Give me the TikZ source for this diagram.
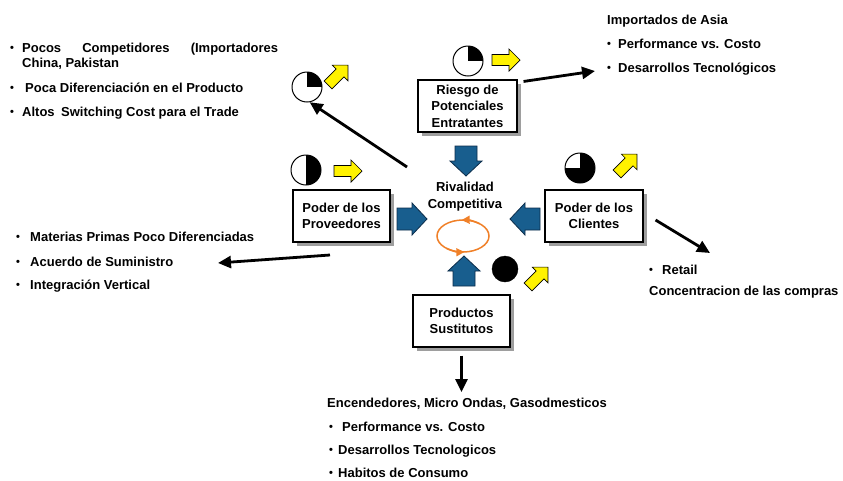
\documentclass[tikz,border=0pt]{standalone}
\usepackage{fontspec}
\setmainfont{Liberation Sans}
\usetikzlibrary{arrows.meta,shadows}
\definecolor{arrowblue}{RGB}{24,94,142}
\definecolor{arrowedge}{RGB}{12,45,75}
\definecolor{cycorange}{RGB}{240,128,40}
\newcommand{\bul}{\raisebox{0.6pt}{\fontsize{11}{11}\selectfont •}}
\tikzset{
  txt/.style={anchor=base west, inner sep=0pt, font=\bfseries\fontsize{13}{16}\selectfont},
  forcebox/.style={draw, line width=1.1pt, fill=white, align=center, inner sep=0pt,
    font=\bfseries\fontsize{13}{16.5}\selectfont,
    drop shadow={shadow xshift=4pt, shadow yshift=-4pt, fill=black!38, opacity=1}},
  pie/.style={circle, draw, line width=1pt, fill=white, minimum size=30pt, inner sep=0pt},
  quarterpie/.style={pie, path picture={\fill[black] (path picture bounding box.center) rectangle (path picture bounding box.north east);}},
  halfpie/.style={pie, path picture={\fill[black] (path picture bounding box.south) rectangle (path picture bounding box.north east);}},
  threepie/.style={pie, path picture={\fill[black] (path picture bounding box.south west) rectangle (path picture bounding box.east);
      \fill[black] (path picture bounding box.center) rectangle (path picture bounding box.north east);}},
  fullpie/.style={circle, draw, fill=black, minimum size=26pt, inner sep=0pt},
  bigarrow/.style={line width=2.8pt, -{Triangle[length=13pt,width=12pt]}},
  bluearrow/.pic={\draw[fill=arrowblue, draw=arrowedge, line width=0.8pt]
     (-15,-11) -- (0,-11) -- (0,-16) -- (15,0) -- (0,16) -- (0,11) -- (-15,11) -- cycle;},
  yelarrow/.pic={\draw[fill=yellow, draw=black, line width=0.7pt]
     (-14,-5.5) -- (3,-5.5) -- (3,-11) -- (14,0) -- (3,11) -- (3,5.5) -- (-14,5.5) -- cycle;},
}
\begin{document}
\begin{tikzpicture}[x=1pt,y=1pt]
\fill[white] (0,0) rectangle (843,-480);
\useasboundingbox (0,0) rectangle (843,-480);

% boxes
\node[forcebox, minimum width=99pt, minimum height=52pt] (riesgo) at (467.5,-106) {Riesgo de\\Potenciales\\Entratantes};
\node[forcebox, minimum width=97pt, minimum height=52pt] (prov) at (341.5,-216) {Poder de los\\Proveedores};
\node[forcebox, minimum width=98pt, minimum height=52pt] (cli) at (594,-216) {Poder de los\\Clientes};
\node[forcebox, minimum width=97pt, minimum height=52pt] (prod) at (461.5,-321) {Productos\\Sustitutos};
\node[align=center, inner sep=0pt, font=\bfseries\fontsize{13}{17}\selectfont] (rival) at (465,-196.5) {Rivalidad\\Competitiva};

% rivalry cycle
\begin{scope}[shift={(463,-236)}, cycorange, line width=1.5pt]
  \draw (0,0) ellipse[x radius=26, y radius=16];
  \draw[-{Triangle[length=8pt,width=8pt]}] (50:26 and 16) arc[start angle=50, end angle=93, x radius=26, y radius=16];
  \draw[-{Triangle[length=8pt,width=8pt]}] (230:26 and 16) arc[start angle=230, end angle=273, x radius=26, y radius=16];
\end{scope}

% blue arrows into rivalry
\pic[rotate=-90] at (466,-161) {bluearrow};
\pic at (412,-219) {bluearrow};
\pic[rotate=180] at (525,-219) {bluearrow};
\pic[rotate=90] at (464,-271) {bluearrow};

% pies
\node[quarterpie] (ptl) at (307,-87) {};
\node[quarterpie] (pri) at (468,-61) {};
\node[halfpie] (ppr) at (306,-170) {};
\node[threepie] (pcl) at (580,-168) {};
\node[fullpie] (ppd) at (505,-269) {};

% yellow arrows
\pic[rotate=45] at (338,-75) {yelarrow};
\pic at (506,-60) {yelarrow};
\pic at (348,-171) {yelarrow};
\pic[rotate=45] at (627,-164) {yelarrow};
\pic[rotate=45] at (538,-277) {yelarrow};

% connectors
\coordinate (tipA) at (595,-71);
\coordinate (srcB) at (407,-167);
\coordinate (srcC) at (330,-255);
\coordinate (tipC) at (218,-263);
\coordinate (tipD) at (710,-253);
\coordinate (tipE) at (461.5,-392);
\draw[bigarrow] ([shift={(6,-2)}]riesgo.north east) -- (tipA);
\draw[bigarrow] (srcB) -- (ptl.-80);
\draw[bigarrow] (srcC) -- (tipC);
\draw[bigarrow] ([shift={(12,-4)}]cli.east) -- (tipD);
\draw[bigarrow] ([yshift=-8]prod.south) -- (tipE);

% text: top left
\node[txt] (l1) at (10,-52) {\makebox[12pt][l]{\bul}\makebox[256pt][s]{Pocos Competidores (Importadores}};
\node[txt] (l2) at (22,-67) {China, Pakistan};
\node[txt] (l3) at (10,-92) {\makebox[15pt][l]{\bul}Poca Diferenciación en el Producto};
\node[txt] (l4) at (10,-116) {\makebox[12pt][l]{\bul}Altos\enspace Switching Cost para el Trade};

% text: top right
\node[txt] (r1) at (607,-24) {Importados de Asia};
\node[txt] (r2) at (607,-48) {\makebox[11pt][l]{\bul}Performance vs. Costo};
\node[txt] (r3) at (607,-72) {\makebox[11pt][l]{\bul}Desarrollos Tecnológicos};

% text: left middle
\node[txt] (m1) at (16,-241) {\makebox[14pt][l]{\bul}Materias Primas Poco Diferenciadas};
\node[txt] (m2) at (16,-266) {\makebox[14pt][l]{\bul}Acuerdo de Suministro};
\node[txt] (m3) at (16,-289) {\makebox[14pt][l]{\bul}Integración Vertical};

% text: right
\node[txt] (c1) at (649,-274) {\makebox[13pt][l]{\bul}Retail};
\node[txt] (c2) at (649,-295) {Concentracion de las compras};

% text: bottom
\node[txt] (b1) at (327,-407) {Encendedores, Micro Ondas, Gasodmesticos};
\node[txt] (b2) at (329,-431) {\makebox[13pt][l]{\bul}Performance vs. Costo};
\node[txt] (b3) at (329,-454) {\makebox[9pt][l]{\bul}Desarrollos Tecnologicos};
\node[txt] (b4) at (329,-477) {\makebox[9pt][l]{\bul}Habitos de Consumo};
\end{tikzpicture}
\end{document}
